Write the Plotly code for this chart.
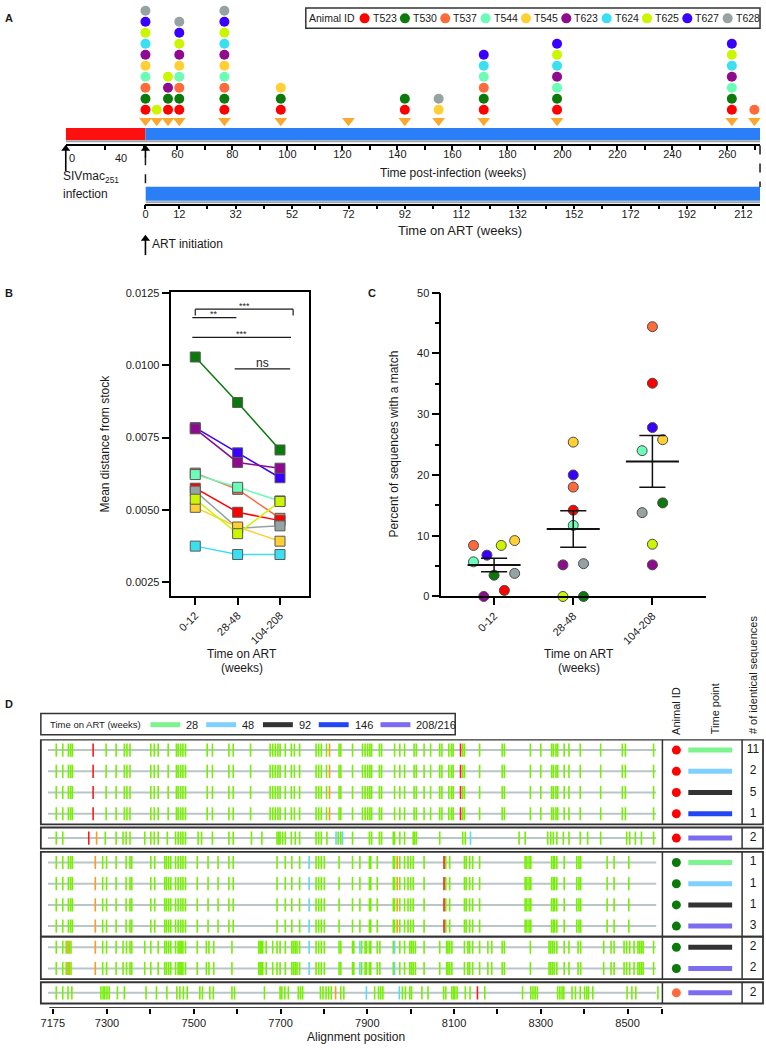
import plotly.graph_objects as go
import numpy as np

W, H = 766, 1050
def fx(px): return px / W
def fy(py): return 1 - py / H

FONT = "Liberation Sans, Arial, sans-serif"
INK = "#1a1a1a"

# ---------------- shared ----------------
ANIMALS = ["T523", "T530", "T537", "T544", "T545", "T623", "T624", "T625", "T627", "T628"]
ANIMAL_COLORS = ["#FF0000", "#0B7A0B", "#FF6A3A", "#6DFBB8", "#FFD033",
                 "#8E0A8E", "#3BE0F0", "#CCF500", "#3A00FF", "#95A3A3"]
COLOR = dict(zip(ANIMALS, ANIMAL_COLORS))

# ---------------- Panel A data ----------------
SAMPLE_WEEKS = [0, 4, 8, 12, 28, 48, 72, 92, 104, 120, 146, 208, 216]
SAMPLED_ANIMALS = [
    ANIMALS,
    ["T625"],
    ["T523", "T530", "T623", "T625"],
    ["T523", "T530", "T537", "T544", "T545", "T623", "T625", "T627", "T628"],
    ANIMALS,
    ["T523", "T530", "T545"],
    [],
    ["T523", "T530"],
    ["T545", "T628"],
    ["T523", "T530", "T537", "T544", "T624", "T627"],
    ["T523", "T530", "T544", "T623", "T624", "T625", "T627"],
    ["T523", "T530", "T544", "T623", "T624", "T625", "T627"],
    ["T537"],
]
POSTINF_LABEL_TICKS = list(range(60, 261, 20))
POSTINF_MINOR_TICKS = [19.4, 33.7, 48] + list(range(70, 271, 20))
ART_LABEL_TICKS = [0] + list(range(12, 213, 20))
ART_MINOR_TICKS = list(range(22, 203, 20))
EVENT_POSTINF_WEEK = [153]

# ---------------- Panel B data ----------------
TIME_GROUPS = ["0-12", "28-48", "104-208"]
B_EARLY = [0.00575, 0.01028, 0.00627, 0.00622, 0.00509, 0.00780, 0.00375, 0.00537, 0.00784, 0.00565]
B_MID   = [0.00492, 0.00871, 0.00571, 0.00578, 0.00441, 0.00664, 0.00346, 0.00418, 0.00697, 0.00437]
B_LATE  = [0.00463, 0.00707, 0.00471, 0.00531, 0.00392, 0.00644, 0.00346, 0.00529, 0.00611, 0.00445]
B_TICKS = [0.0025, 0.0050, 0.0075, 0.0100, 0.0125]

# ---------------- Panel C data ----------------
C_EARLY = [1.0, 3.5, 8.4, 5.7, 9.2, 0.0, None, 8.4, 6.8, 3.8]
C_MID   = [14.2, 0.0, 18.0, 11.7, 25.4, 5.2, None, 0.0, 20.0, 5.4]
C_LATE  = [35.1, 15.4, 44.4, 24.0, 25.8, 5.2, None, 8.6, 27.8, 13.8]
C_JIT_EARLY = [0.13, 0.0, -0.26, -0.26, 0.26, -0.13, 0.0, 0.09, -0.09, 0.26]
C_JIT_MID   = [0.0, 0.13, 0.0, 0.0, 0.0, -0.13, 0.0, -0.13, 0.0, 0.13]
C_JIT_LATE  = [0.0, 0.13, 0.0, -0.13, 0.13, 0.0, 0.0, 0.0, 0.0, -0.13]

# ---------------- Panel D data ----------------
ROW_ANIMAL = ["T523"] * 5 + ["T530"] * 6 + ["T537"]
ROW_TIME = ["28", "48", "92", "146", "208/216", "28", "48", "92", "208/216", "92", "208/216", "208/216"]
ROW_COUNT = [11, 2, 5, 1, 2, 1, 1, 1, 3, 2, 2, 2]
ROW_GROUP = [0, 0, 0, 0, 1, 2, 2, 2, 2, 3, 3, 4]
TIME_KEYS = ["28", "48", "92", "146", "208/216"]
TIME_COLORS = ["#7DF58E", "#7FD0FF", "#333333", "#2346F5", "#7B6CF0"]

G1_GREEN = [7183, 7198, 7211, 7216, 7220, 7298, 7321, 7340, 7346, 7353, 7401, 7409, 7418, 7441, 7460,
            7464, 7470, 7475, 7481, 7531, 7543, 7581, 7591, 7631, 7676, 7682, 7688, 7694, 7699, 7711,
            7725, 7732, 7744, 7782, 7788, 7794, 7806, 7835, 7839, 7866, 7889, 7895, 7901, 7906, 7910,
            7928, 7933, 7963, 7975, 7986, 8008, 8013, 8031, 8046, 8067, 8072, 8088, 8094, 8098, 8120,
            8124, 8159, 8211, 8216, 8276, 8300, 8325, 8329, 8335, 8339, 8354, 8365, 8391, 8438, 8488,
            8495, 8560]
G1_RED = [7268, 8115]
G1_ORANGE = [7813]
G1_CYAN = []

G2_GREEN = [7183, 7198, 7296, 7321, 7337, 7344, 7353, 7387, 7401, 7409, 7418, 7439, 7458, 7464, 7470,
            7475, 7481, 7510, 7518, 7543, 7581, 7591, 7633, 7657, 7692, 7696, 7699, 7705, 7711, 7725,
            7734, 7744, 7782, 7788, 7794, 7807, 7833, 7839, 7866, 7905, 7910, 7928, 7933, 7960, 7963,
            7975, 7986, 8006, 8009, 8013, 8067, 8120, 8126, 8250, 8264, 8316, 8323, 8329, 8337, 8352,
            8365, 8391, 8408, 8438, 8498, 8505, 8518, 8532, 8560]
G2_RED = [7258]
G2_ORANGE = [7276]
G2_CYAN = [7828, 7843, 8138]

G3_GREEN = [7183, 7198, 7211, 7216, 7220, 7290, 7299, 7321, 7344, 7353, 7357, 7401, 7410, 7433, 7437,
            7442, 7447, 7458, 7464, 7470, 7475, 7481, 7508, 7533, 7556, 7581, 7591, 7692, 7711, 7726,
            7744, 7782, 7788, 7794, 7801, 7835, 7866, 7883, 7905, 7908, 7923, 7960, 7963, 7975, 7986,
            7994, 8000, 8006, 8031, 8081, 8090, 8124, 8128, 8136, 8143, 8159, 8264, 8268, 8273, 8277,
            8325, 8329, 8332, 8337, 8354, 8383, 8388, 8392, 8453, 8469, 8503]
G3_RED = [8077]
G3_ORANGE = [7273, 7969]
G3_CYAN = [7766]

G4_GREEN = [7183, 7198, 7206, 7213, 7217, 7290, 7299, 7321, 7337, 7345, 7353, 7357, 7387, 7401, 7418,
            7433, 7437, 7442, 7447, 7458, 7464, 7468, 7471, 7475, 7481, 7508, 7529, 7535, 7546, 7588,
            7650, 7653, 7656, 7659, 7667, 7682, 7692, 7699, 7711, 7726, 7730, 7734, 7738, 7744, 7782,
            7788, 7794, 7801, 7835, 7839, 7866, 7869, 7887, 7895, 7898, 7905, 7908, 7923, 7929, 7960,
            7975, 7986, 7998, 8002, 8006, 8011, 8031, 8067, 8083, 8086, 8090, 8095, 8124, 8132, 8136,
            8143, 8159, 8178, 8187, 8211, 8216, 8276, 8319, 8323, 8327, 8331, 8337, 8354, 8365, 8386,
            8392, 8445, 8462, 8469, 8492, 8498, 8505, 8515, 8524, 8528, 8532, 8536, 8560]
G4_RED = []
G4_ORANGE = [7210, 7273]
G4_CYAN = [7766, 7883, 7963]

G5_GREEN = [7183, 7198, 7210, 7219, 7286, 7291, 7295, 7300, 7305, 7324, 7340, 7390, 7414, 7438, 7461,
            7468, 7476, 7485, 7514, 7520, 7537, 7545, 7588, 7594, 7663, 7699, 7703, 7710, 7718, 7741,
            7746, 7751, 7792, 7798, 7805, 7811, 7817, 7839, 7846, 7917, 7926, 7931, 7936, 7981, 7988,
            7998, 8002, 8026, 8040, 8076, 8081, 8095, 8099, 8102, 8107, 8126, 8137, 8171, 8258, 8277,
            8282, 8287, 8292, 8339, 8344, 8349, 8353, 8372, 8380, 8391, 8401, 8406, 8410, 8420, 8499,
            8510, 8519, 8570]
G5_RED = [8154]
G5_ORANGE = [7827]
G5_CYAN = [7898, 7974]

GROUP_MUT = [
    (G1_GREEN, G1_RED, G1_ORANGE, G1_CYAN),
    (G2_GREEN, G2_RED, G2_ORANGE, G2_CYAN),
    (G3_GREEN, G3_RED, G3_ORANGE, G3_CYAN),
    (G4_GREEN, G4_RED, G4_ORANGE, G4_CYAN),
    (G5_GREEN, G5_RED, G5_ORANGE, G5_CYAN),
]
MUT_COLORS = ["#74F000", "#FF1A1A", "#FF9A1F", "#5FD8F5"]
ALIGN_START, ALIGN_END = 7164, 8566
ALIGN_LABEL_TICKS = [7175, 7300, 7500, 7700, 7900, 8100, 8300, 8500]
ALIGN_MINOR_TICKS = [7400, 7600, 7800, 8000, 8200, 8400, 8579]

fig = go.Figure()
annotations = []
shapes = []
arrow_heads = ([], [])

def txt(px, py, s, size=11, xa="center", ya="middle", angle=0, color=INK):
    annotations.append(dict(x=fx(px), y=fy(py), xref="paper", yref="paper", text=s,
                            showarrow=False, xanchor=xa, yanchor=ya, textangle=angle,
                            font=dict(family=FONT, size=size, color=color)))

def hline_px(x0, x1, py, color=INK, width=1.5, dash="solid"):
    shapes.append(dict(type="line", xref="paper", yref="paper", x0=fx(x0), x1=fx(x1),
                       y0=fy(py), y1=fy(py), line=dict(color=color, width=width, dash=dash)))

def vline_px(px, y0, y1, color=INK, width=1.5, dash="solid"):
    shapes.append(dict(type="line", xref="paper", yref="paper", x0=fx(px), x1=fx(px),
                       y0=fy(y0), y1=fy(y1), line=dict(color=color, width=width, dash=dash)))

def rect_px(x0, y0, x1, y1, color="#333", width=1.5):
    shapes.append(dict(type="rect", xref="paper", yref="paper", x0=fx(x0), x1=fx(x1),
                       y0=fy(y0), y1=fy(y1), line=dict(color=color, width=width)))

def arrow_up(px, py_head, length):
    vline_px(px, py_head + 4, py_head + length, color="#000", width=1.6)
    arrow_heads[0].append(px)
    arrow_heads[1].append(py_head + 3.5)

# ===================== Panel A =====================
A_X_RANGE = [-28.27, 218.0]      # weeks on ART
A_POST_RANGE = [19.4, 271.9]     # weeks post-infection
A_Y_RANGE = [-2.142, 10.43]

dots = {a: ([], []) for a in ANIMALS}
for wk, grp in zip(SAMPLE_WEEKS, SAMPLED_ANIMALS):
    ordered = [a for a in ANIMALS if a in grp]
    for lvl, a in enumerate(ordered, start=1):
        dots[a][0].append(wk)
        dots[a][1].append(lvl)

fig.add_trace(go.Scatter(x=SAMPLE_WEEKS, y=[0] * len(SAMPLE_WEEKS), mode="markers",
                         marker=dict(symbol="triangle-down", size=11, color="#FBA92E"),
                         xaxis="x", yaxis="y", cliponaxis=False, hoverinfo="skip"))
for a in ANIMALS:
    fig.add_trace(go.Scatter(x=dots[a][0], y=dots[a][1], mode="markers",
                             marker=dict(size=10, color=COLOR[a]),
                             xaxis="x", yaxis="y", cliponaxis=False, hoverinfo="skip"))
fig.add_trace(go.Scatter(x=EVENT_POSTINF_WEEK, y=[-2.7], mode="markers",
                         marker=dict(symbol="triangle-up", size=10, color="#C8141E"),
                         xaxis="x3", yaxis="y", cliponaxis=False, hoverinfo="skip"))

shapes.append(dict(type="rect", xref="x", yref="y", x0=A_X_RANGE[0], x1=0, y0=-1.74, y1=-0.643,
                   fillcolor="#FF1010", line=dict(width=0), layer="below"))
shapes.append(dict(type="rect", xref="x", yref="y", x0=0, x1=A_X_RANGE[1], y0=-1.74, y1=-0.643,
                   fillcolor="#2A7FF6", line=dict(width=0), layer="below"))
shapes.append(dict(type="line", xref="x", yref="y", x0=A_X_RANGE[0], x1=A_X_RANGE[1], y0=-1.86, y1=-1.86,
                   line=dict(color="#9BA3A8", width=2)))
shapes.append(dict(type="rect", xref="x2", yref="y2", x0=0, x1=217.9, y0=0.17, y1=1.0,
                   fillcolor="#2A7FF6", line=dict(width=0), layer="below"))
shapes.append(dict(type="line", xref="x2", yref="y2", x0=0, x1=217.9, y0=0.08, y1=0.08,
                   line=dict(color="#9BA3A8", width=2)))

vline_px(143, 152, 183, dash="dash")
vline_px(760, 141, 183, dash="dash")
arrow_up(63, 141, 26)
arrow_up(143, 141, 12)
arrow_up(143, 232, 20)

rect_px(304, 2, 760, 22.5)
txt(330, 12.5, "Animal ID", size=10.5)
LEG_X0, LEG_DX = 363, 40.5
fig.add_trace(go.Scatter(x=[LEG_X0 + LEG_DX * i for i in range(len(ANIMALS))], y=[12.5] * len(ANIMALS),
                         mode="markers", marker=dict(size=10, color=ANIMAL_COLORS),
                         xaxis="x8", yaxis="y8", cliponaxis=False, hoverinfo="skip"))
for i, a in enumerate(ANIMALS):
    txt(LEG_X0 + LEG_DX * i + 6, 12.5, a, size=10.5, xa="left")

txt(0, 12, "<b>A</b>", size=11, xa="left")
txt(64, 154, "0", size=11, xa="left")
txt(118, 154, "40", size=11)
txt(452, 169, "Time post-infection (weeks)", size=12)
txt(58, 173, "SIVmac<sub>251</sub>", size=12, xa="left")
txt(58, 190, "infection", size=12, xa="left")
txt(459, 227, "Time on ART (weeks)", size=13)
txt(148, 241, "ART initiation", size=12, xa="left")

# ===================== Panel B =====================
B_X_RANGE = [-0.565, 2.68]
B_Y_RANGE = [0.002022, 0.012534]
B_ORDER = ["T537", "T544", "T627", "T623", "T523", "T628", "T545", "T625", "T530", "T624"]
for a in B_ORDER:
    i = ANIMALS.index(a)
    fig.add_trace(go.Scatter(x=[0, 1, 2], y=[B_EARLY[i], B_MID[i], B_LATE[i]], mode="lines+markers",
                             line=dict(color=COLOR[a], width=1.5),
                             marker=dict(symbol="square", size=10, color=COLOR[a],
                                         line=dict(color="#5a5a5a", width=1)),
                             xaxis="x4", yaxis="y4", cliponaxis=False, hoverinfo="skip"))

BRACKETS = [  # x0, x1, y, text, y_text, drop
    (0.0, 2.31, 0.01193, "***", 0.01205, True),
    (-0.07, 0.97, 0.01164, "**", 0.01175, False),
    (-0.07, 2.26, 0.01096, "***", 0.01108, False),
    (0.93, 2.24, 0.00987, "ns", 0.01006, False),
]
for x0, x1, yv, t, yt, drop in BRACKETS:
    shapes.append(dict(type="line", xref="x4", yref="y4", x0=x0, x1=x1, y0=yv, y1=yv,
                       line=dict(color=INK, width=1.2)))
    if drop:
        for xx in (x0, x1):
            shapes.append(dict(type="line", xref="x4", yref="y4", x0=xx, x1=xx, y0=yv, y1=yv - 0.00022,
                               line=dict(color=INK, width=1.2)))
    annotations.append(dict(x=(x0 + x1) / 2, y=yt, xref="x4", yref="y4",
                            text=t, showarrow=False,
                            font=dict(family=FONT, size=12 if t == "ns" else 9, color=INK)))

txt(0, 290, "<b>B</b>", size=11, xa="left")
txt(102, 443, "Mean distance from stock", size=12, angle=-90)
txt(240, 655, "Time on ART", size=12)
txt(240, 670, "(weeks)", size=12)

# ===================== Panel C =====================
C_X_RANGE = [-0.667, 2.68]
C_SETS = [(C_EARLY, C_JIT_EARLY), (C_MID, C_JIT_MID), (C_LATE, C_JIT_LATE)]
for a_i, a in enumerate(ANIMALS):
    xs, ys = [], []
    for g, (vals, jit) in enumerate(C_SETS):
        if vals[a_i] is not None:
            xs.append(g + jit[a_i])
            ys.append(vals[a_i])
    if xs:
        fig.add_trace(go.Scatter(x=xs, y=ys, mode="markers",
                                 marker=dict(size=10, color=COLOR[a], line=dict(color="#4a4a4a", width=1)),
                                 xaxis="x5", yaxis="y5", cliponaxis=False, hoverinfo="skip"))
for g, (vals, _) in enumerate(C_SETS):
    v = np.array([x for x in vals if x is not None], dtype=float)
    m = v.mean()
    sem = v.std(ddof=1) / np.sqrt(len(v))
    fig.add_trace(go.Scatter(x=[g - 0.335, g + 0.335], y=[m, m], mode="lines",
                             line=dict(color="#111", width=2), xaxis="x5", yaxis="y5",
                             cliponaxis=False, hoverinfo="skip"))
    fig.add_trace(go.Scatter(x=[g, g, None, g - 0.165, g + 0.165, None, g - 0.165, g + 0.165],
                             y=[m - sem, m + sem, None, m + sem, m + sem, None, m - sem, m - sem],
                             mode="lines", line=dict(color="#111", width=1.5), xaxis="x5", yaxis="y5",
                             cliponaxis=False, hoverinfo="skip"))

txt(364, 290, "<b>C</b>", size=11, xa="left")
txt(392, 443, "Percent of sequences with a match", size=12, angle=-90)
txt(578, 655, "Time on ART", size=12)
txt(578, 670, "(weeks)", size=12)

# ===================== Panel D =====================
PAD, GAPS = 0.5, [0.15, 0.15, 0.0, 0.15]
n_groups = max(ROW_GROUP) + 1
row_y = []
group_box = []
cursor = -PAD
for g in range(n_groups):
    rows = [i for i, gg in enumerate(ROW_GROUP) if gg == g]
    top = cursor
    for k, _ in enumerate(rows):
        row_y.append(top + PAD + k)
    bottom = top + 2 * PAD + len(rows) - 1
    group_box.append((top, bottom))
    if g < len(GAPS):
        cursor = bottom + GAPS[g]
D_Y_RANGE = [12.15, -0.514]
D_X_RANGE = [7147.5, 8580.4]

bx, by = [], []
for y in row_y:
    bx += [ALIGN_START, ALIGN_END, None]
    by += [y, y, None]
fig.add_trace(go.Scatter(x=bx, y=by, mode="lines", line=dict(color="#B9C6C8", width=2),
                         xaxis="x6", yaxis="y6", hoverinfo="skip"))
HALF = 0.31
for c_i, col in enumerate(MUT_COLORS):
    mx, my = [], []
    for r, y in enumerate(row_y):
        for p in GROUP_MUT[ROW_GROUP[r]][c_i]:
            mx += [p, p, None]
            my += [y - HALF, y + HALF, None]
    fig.add_trace(go.Scatter(x=mx, y=my, mode="lines", line=dict(color=col, width=1.6),
                             xaxis="x6", yaxis="y6", hoverinfo="skip"))

COL_DOT, COL_BAR0, COL_BAR1, COL_NUM = 14, 26, 70, 91
fig.add_trace(go.Scatter(x=[COL_DOT] * len(row_y), y=row_y, mode="markers",
                         marker=dict(size=9, color=[COLOR[a] for a in ROW_ANIMAL]),
                         xaxis="x7", yaxis="y6", cliponaxis=False, hoverinfo="skip"))
for t_i, t in enumerate(TIME_KEYS):
    tx, ty = [], []
    for r, y in enumerate(row_y):
        if ROW_TIME[r] == t:
            tx += [COL_BAR0, COL_BAR1, None]
            ty += [y, y, None]
    fig.add_trace(go.Scatter(x=tx, y=ty, mode="lines", line=dict(color=TIME_COLORS[t_i], width=5),
                             xaxis="x7", yaxis="y6", cliponaxis=False, hoverinfo="skip"))
fig.add_trace(go.Scatter(x=[COL_NUM] * len(row_y), y=row_y, mode="text",
                         text=[str(c) for c in ROW_COUNT], textfont=dict(family=FONT, size=12, color=INK),
                         xaxis="x7", yaxis="y6", cliponaxis=False, hoverinfo="skip"))

for top, bottom in group_box:
    shapes.append(dict(type="rect", xref="paper", yref="y6", x0=fx(38), x1=fx(763), y0=top, y1=bottom,
                       line=dict(color="#333", width=1.8)))
    for px in (662, 742):
        shapes.append(dict(type="line", xref="paper", yref="y6", x0=fx(px), x1=fx(px), y0=top, y1=bottom,
                           line=dict(color="#333", width=1.5)))
shapes.append(dict(type="line", xref="x6", yref="y6", x0=7167, x1=8580, y0=D_Y_RANGE[0], y1=D_Y_RANGE[0],
                   line=dict(color="#000", width=1.5)))

rect_px(38, 715.7, 454, 737.3)
txt(45, 727, "Time on ART (weeks)", size=9.5, xa="left")
LEG_D = [(148, 178, 182), (204, 234, 238), (261, 291, 295), (317, 347, 351), (379, 409, 413)]
for (x0, x1, xl), t, c in zip(LEG_D, TIME_KEYS, TIME_COLORS):
    hline_px(x0, x1, 727, color=c, width=5)
    txt(xl, 727, t, size=11, xa="left")

txt(675, 739, "Animal ID", size=11, angle=-90, ya="bottom")
txt(715, 739, "Time point", size=11, angle=-90, ya="bottom")
txt(753, 739, "# of identical sequences", size=11, angle=-90, ya="bottom")
txt(0, 706, "<b>D</b>", size=11, xa="left")
txt(354, 1043, "Alignment position", size=12)

fig.add_trace(go.Scatter(x=arrow_heads[0], y=arrow_heads[1], mode="markers",
                         marker=dict(symbol="triangle-up", size=8, color="#000"),
                         xaxis="x8", yaxis="y8", cliponaxis=False, hoverinfo="skip"))

# ===================== layout =====================
def base_axis(**kw):
    d = dict(showgrid=False, zeroline=False, showline=False, ticks="", showticklabels=False,
             tickfont=dict(family=FONT, size=11, color=INK), fixedrange=True)
    d.update(kw)
    return d

AX_LINE = dict(showline=True, linecolor="#000", linewidth=1.5, ticks="outside", tickcolor="#000",
               tickwidth=1.5, showticklabels=True)

def minor(vals, ln):
    return dict(tickvals=vals, ticklen=ln, ticks="outside", tickcolor="#000", tickwidth=1.5)

fig.update_layout(
    width=W, height=H, margin=dict(l=0, r=0, t=0, b=0),
    paper_bgcolor="white", plot_bgcolor="rgba(0,0,0,0)", showlegend=False,
    font=dict(family=FONT, color=INK),
    xaxis=base_axis(domain=[fx(63), fx(760)], range=A_X_RANGE, anchor="y"),
    yaxis=base_axis(domain=[fy(140), fy(0)], range=A_Y_RANGE, anchor="x"),
    xaxis3=base_axis(overlaying="x", anchor="y", side="bottom", range=A_POST_RANGE,
                     tickmode="array", tickvals=POSTINF_LABEL_TICKS, ticklen=4, ticklabelstandoff=-5,
                     minor=minor(POSTINF_MINOR_TICKS, 4), **AX_LINE),
    xaxis2=base_axis(domain=[fx(143), fx(760)], range=[0, 217.9], anchor="y2",
                     tickmode="array", tickvals=ART_LABEL_TICKS, ticklen=4, ticklabelstandoff=-5,
                     minor=minor(ART_MINOR_TICKS, 4), **AX_LINE),
    yaxis2=base_axis(domain=[fy(200), fy(182.7)], range=[0, 1], anchor="x2"),
    xaxis4=base_axis(domain=[fx(169), fx(307)], range=B_X_RANGE, anchor="y4", mirror=True,
                     tickmode="array", tickvals=[0, 1, 2], ticktext=TIME_GROUPS, tickangle=-45, ticklen=7,
                     **AX_LINE),
    yaxis4=base_axis(domain=[fy(597), fy(289)], range=B_Y_RANGE, anchor="x4", mirror=True,
                     tickmode="array", tickvals=B_TICKS, tickformat=".4f", ticklen=8, **AX_LINE),
    xaxis5=base_axis(domain=[fx(440), fx(706)], range=C_X_RANGE, anchor="y5",
                     tickmode="array", tickvals=[0, 1, 2], ticktext=TIME_GROUPS, tickangle=-45, ticklen=7,
                     **AX_LINE),
    yaxis5=base_axis(domain=[fy(597.3), fy(290)], range=[0, 50], anchor="x5",
                     tickmode="array", tickvals=[0, 10, 20, 30, 40, 50], ticklen=8,
                     minor=minor([5, 15, 25, 35, 45], 5), **AX_LINE),
    xaxis6=base_axis(domain=[fx(38), fx(662)], range=D_X_RANGE, anchor="y6",
                     ticks="outside", tickcolor="#000", tickwidth=1.5, ticklen=5, showticklabels=True,
                     tickmode="array", tickvals=ALIGN_LABEL_TICKS, minor=minor(ALIGN_MINOR_TICKS, 5)),
    yaxis6=base_axis(domain=[fy(1013.3), fy(741.7)], range=D_Y_RANGE, anchor="x6"),
    xaxis7=base_axis(domain=[fx(662), fx(763)], range=[0, 101], anchor="y6"),
    xaxis8=base_axis(domain=[0, 1], range=[0, W], anchor="y8"),
    yaxis8=base_axis(domain=[0, 1], range=[H, 0], anchor="x8"),
    annotations=annotations,
    shapes=shapes,
)

fig.write_html("out.html", config={"displayModeBar": False},
               post_script="document.body.style.margin='0px';document.body.style.overflow='hidden';")
